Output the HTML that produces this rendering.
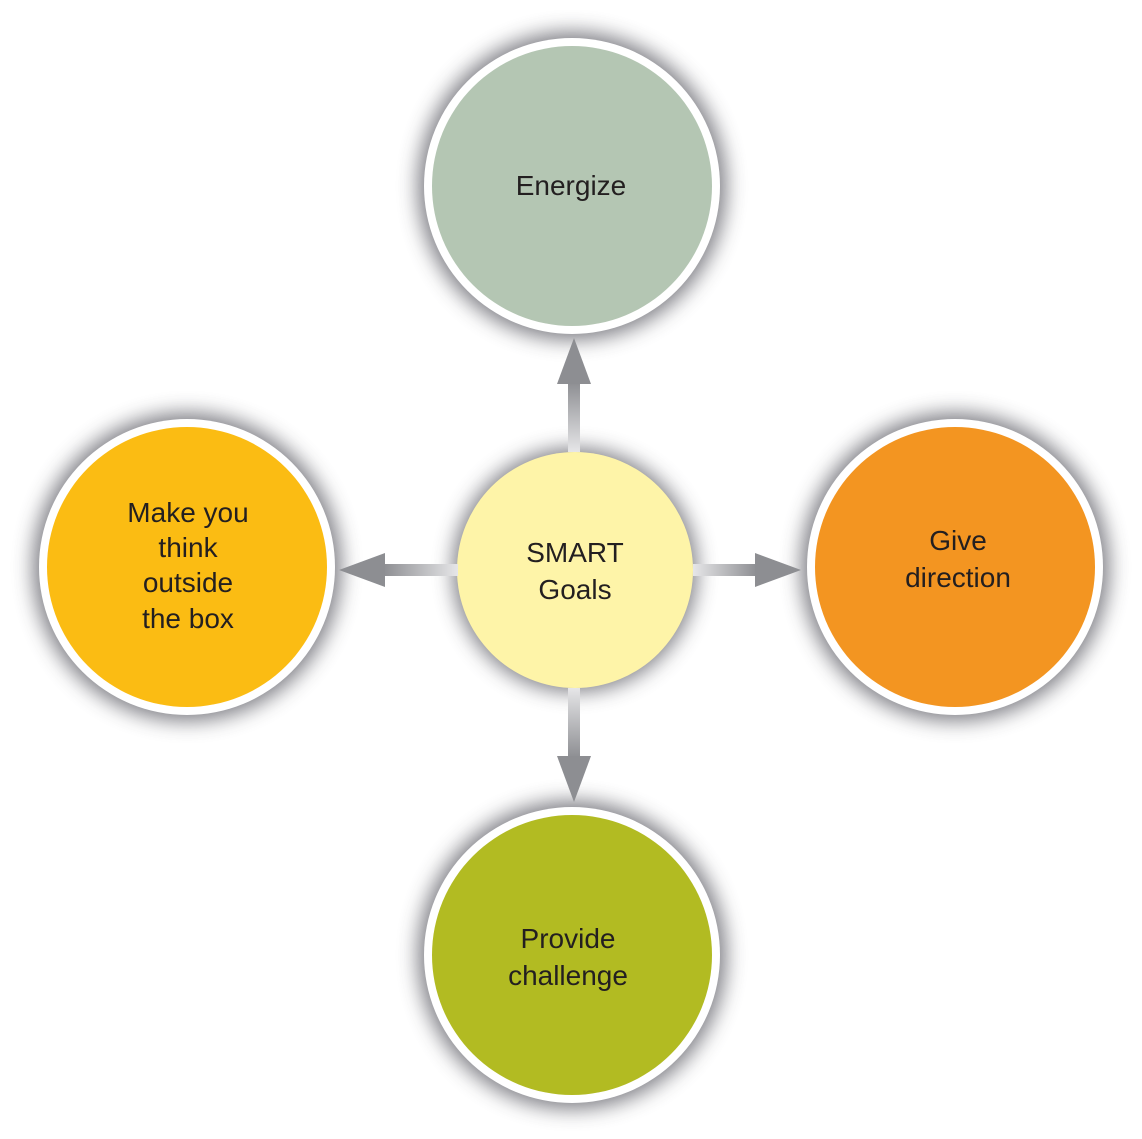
<!DOCTYPE html>
<html><head><style>
body{margin:0;background:#fff;}
svg{display:block}
text{font-family:"Liberation Sans",sans-serif;font-size:28px;fill:#231f20;text-anchor:middle}
</style></head><body>
<svg width="1142" height="1139" viewBox="0 0 1142 1139">
<defs>
<filter id="sh" x="-30%" y="-30%" width="160%" height="160%"><feGaussianBlur stdDeviation="10"/></filter>
<linearGradient id="gv" x1="0" y1="1" x2="0" y2="0"><stop offset="0" stop-color="#e6e6e8"/><stop offset="1" stop-color="#8d8e92"/></linearGradient>
<linearGradient id="gvd" x1="0" y1="0" x2="0" y2="1"><stop offset="0" stop-color="#e6e6e8"/><stop offset="1" stop-color="#8d8e92"/></linearGradient>
<linearGradient id="gh" x1="0" y1="0" x2="1" y2="0"><stop offset="0" stop-color="#e6e6e8"/><stop offset="1" stop-color="#8d8e92"/></linearGradient>
<linearGradient id="ghl" x1="1" y1="0" x2="0" y2="0"><stop offset="0" stop-color="#e6e6e8"/><stop offset="1" stop-color="#8d8e92"/></linearGradient>
</defs>
<g fill="#6f7077" opacity="0.9" filter="url(#sh)">
<circle cx="572" cy="186" r="154"/>
<circle cx="187" cy="567" r="154"/>
<circle cx="955" cy="567" r="154"/>
<circle cx="572" cy="955" r="154"/>
<circle cx="575" cy="570" r="122"/>
</g>
<circle cx="572" cy="186" r="148" fill="#fff"/><circle cx="572" cy="186" r="140" fill="#b4c6b3"/>
<circle cx="187" cy="567" r="148" fill="#fff"/><circle cx="187" cy="567" r="140" fill="#fbbc13"/>
<circle cx="955" cy="567" r="148" fill="#fff"/><circle cx="955" cy="567" r="140" fill="#f39521"/>
<circle cx="572" cy="955" r="148" fill="#fff"/><circle cx="572" cy="955" r="140" fill="#b2bb22"/>
<circle cx="575" cy="570" r="118" fill="#fef4a8"/>
<rect x="568" y="382" width="12" height="70" fill="url(#gv)"/>
<polygon points="574,338 591,384 557,384" fill="#8d8e92"/>
<rect x="568" y="688" width="12" height="70" fill="url(#gvd)"/>
<polygon points="574,802 591,756 557,756" fill="#8d8e92"/>
<rect x="693" y="564" width="64" height="12" fill="url(#gh)"/>
<polygon points="801,570 755,553 755,587" fill="#8d8e92"/>
<rect x="383" y="564" width="75" height="12" fill="url(#ghl)"/>
<polygon points="339,570 385,553 385,587" fill="#8d8e92"/>
<text x="571" y="195">Energize</text>
<text x="575" y="562">SMART</text><text x="575" y="599">Goals</text>
<text x="188" y="522">Make you</text><text x="188" y="557">think</text><text x="188" y="592">outside</text><text x="188" y="628">the box</text>
<text x="958" y="550">Give</text><text x="958" y="587">direction</text>
<text x="568" y="948">Provide</text><text x="568" y="985">challenge</text>
</svg>
</body></html>
